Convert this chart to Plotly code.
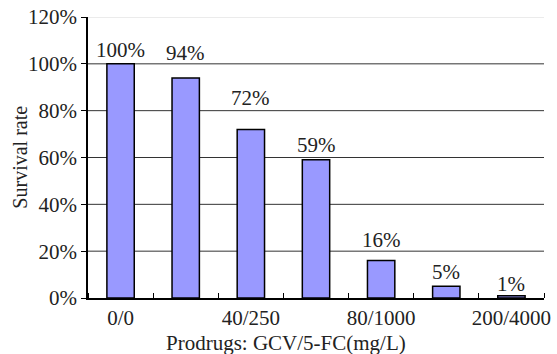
import plotly.graph_objects as go

# ---- data ----
categories = ["0/0", "", "40/250", "", "80/1000", "", "200/4000"]
survival = [1.00, 0.94, 0.72, 0.59, 0.16, 0.05, 0.01]
value_labels = ["100%", "94%", "72%", "59%", "16%", "5%", "1%"]
y_tick_vals = [0, 0.2, 0.4, 0.6, 0.8, 1.0, 1.2]
y_tick_text = ["0%", "20%", "40%", "60%", "80%", "100%", "120%"]

# ---- style ----
FONT = "Liberation Serif, Times New Roman, serif"
FS = 21
label_shift = [14, 25, 31, 15, 21, 14, 12]  # manual label offsets (px)

x_pos = list(range(len(survival)))
label_x = [i for i, c in enumerate(categories) if c]
label_t = [c for c in categories if c]

fig = go.Figure()

# gridlines (top one is light grey as in the reference)
top = max(y_tick_vals)
for yv in y_tick_vals[1:]:
    fig.add_hline(y=yv, layer="below",
                  line=dict(color="#d8d8d8" if yv == top else "#333", width=1))

fig.add_trace(go.Bar(
    x=x_pos, y=survival, width=0.42,
    marker=dict(color="#9999FF", line=dict(color="black", width=1.5)),
    hoverinfo="skip",
))

for i, (v, t) in enumerate(zip(survival, value_labels)):
    fig.add_annotation(
        x=x_pos[i], y=v, text=t, showarrow=False, yanchor="middle",
        yshift=label_shift[i],
        font=dict(family=FONT, size=FS, color="#222"),
    )

fig.add_annotation(
    xref="paper", yref="paper", x=-0.151, y=0.5, xanchor="center", yanchor="middle",
    text="Survival rate", textangle=-90, showarrow=False,
    font=dict(family=FONT, size=20, color="#222"),
)
fig.add_annotation(
    xref="paper", yref="paper", x=0.435, y=-0.16, xanchor="center", yanchor="middle",
    text="Prodrugs: GCV/5-FC(mg/L)", showarrow=False,
    font=dict(family=FONT, size=FS, color="#222"),
)

fig.update_layout(
    width=557, height=354,
    margin=dict(l=88, r=13, t=17, b=56, autoexpand=False),
    paper_bgcolor="white", plot_bgcolor="white",
    showlegend=False,
    font=dict(family=FONT, size=FS, color="#222"),
    xaxis=dict(
        range=[-0.5, 6.5], tickmode="array", tickvals=label_x, ticktext=label_t,
        ticks="", showline=True, linecolor="black", linewidth=1.5,
        showgrid=False, zeroline=False, automargin=False,
        minor=dict(ticks="inside", tick0=0.5, dtick=1, ticklen=5,
                   tickcolor="black", tickwidth=1, showgrid=False),
        tickfont=dict(family=FONT, size=FS, color="#222"),
    ),
    yaxis=dict(
        range=[0, 1.2], tickmode="array", tickvals=y_tick_vals, ticktext=y_tick_text,
        ticks="outside", ticklen=5, tickcolor="black", automargin=False,
        showline=True, linecolor="black", linewidth=1.5,
        showgrid=False, zeroline=False,
        tickfont=dict(family=FONT, size=FS, color="#222"),
    ),
)

fig.write_html("out.html", config={"displayModeBar": False},
               post_script="document.body.style.margin='0';document.body.style.padding='0';")
